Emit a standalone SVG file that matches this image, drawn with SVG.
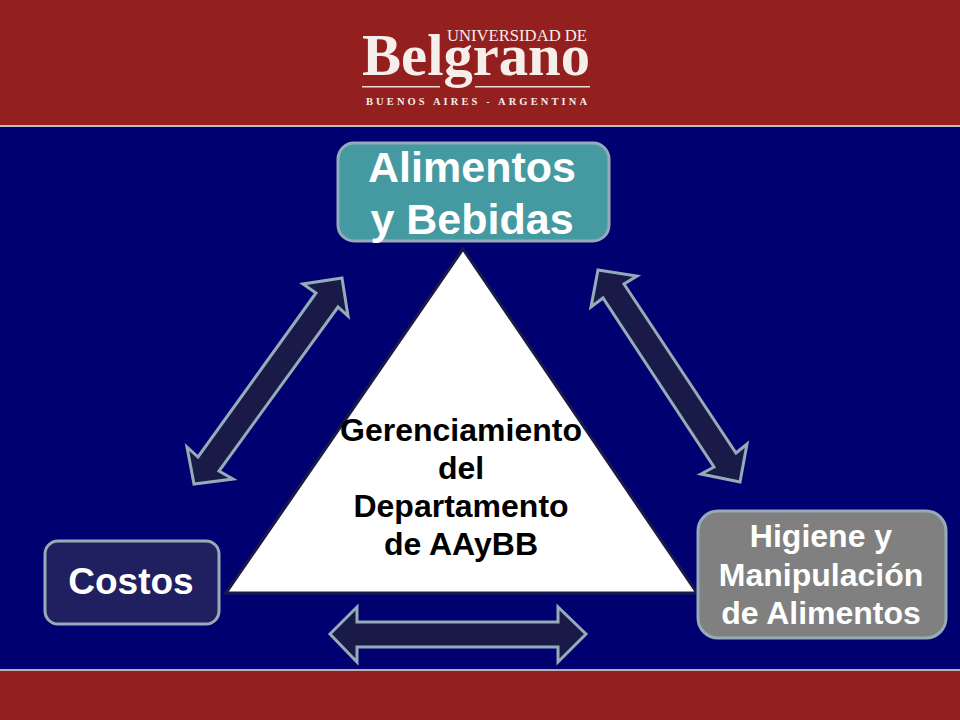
<svg xmlns="http://www.w3.org/2000/svg" width="960" height="720" viewBox="0 0 960 720">
<style>
.box{stroke:#96abb8;stroke-width:3}
.arrow{fill:#1a1a48;stroke:#96abb8;stroke-width:3;stroke-miterlimit:10}
text{font-family:"Liberation Sans",Arial,sans-serif;font-weight:bold;text-anchor:middle}
.w{fill:#fff}
.logo{font-family:"Liberation Serif","Times New Roman",serif;fill:#f6eeea;text-anchor:start}
</style>
<rect width="960" height="720" fill="#000070"/>
<g id="header">
<rect width="960" height="125" fill="#931f1f"/>
<rect y="125" width="960" height="2" fill="#c2bcbc"/>
<rect x="362" y="86" width="78" height="1.5" fill="#f0dcd6"/>
<rect x="475" y="86" width="115" height="1.5" fill="#f0dcd6"/>
<text class="logo" x="447" y="41" font-size="17" textLength="140" lengthAdjust="spacingAndGlyphs" style="font-weight:normal">UNIVERSIDAD DE</text>
<text class="logo" x="362" y="75" font-size="60" textLength="228" lengthAdjust="spacingAndGlyphs">Belgrano</text>
<text class="logo" x="366" y="105" font-size="10.5" textLength="221">BUENOS AIRES - ARGENTINA</text>
</g>
<g id="footer">
<rect y="671" width="960" height="49" fill="#931f1f"/>
<rect y="669" width="960" height="2" fill="#b8aeb4"/>
</g>
<g id="connectors">
<path class="arrow" d="M342,278L303,284L316,293L198,457L187,447L194,484L233,479L219,471L338,307L348,316Z"/>
<path class="arrow" d="M598,270L637,276L624,284L736,453L747,444L740,482L701,474L714,467L603,298L591,307Z"/>
<path class="arrow" d="M330,634L357,607V622H558V607L586,634L558,662V647H357V662Z"/>
</g>
<g id="triangle">
<path d="M463,249L697,593H226Z" fill="#fff" stroke="#1a1a48" stroke-width="3"/>
<text font-size="32" x="461" y="441">Gerenciamiento</text>
<text font-size="32" x="461" y="479">del</text>
<text font-size="32" x="461" y="517">Departamento</text>
<text font-size="32" x="461" y="555">de AAyBB</text>
</g>
<g id="alimentos">
<rect class="box" x="338" y="143" width="271" height="98" rx="16" fill="#459aa2"/>
<text class="w" font-size="43" x="472" y="182">Alimentos</text>
<text class="w" font-size="43" x="472" y="234">y Bebidas</text>
</g>
<g id="costos">
<rect class="box" x="45" y="541" width="174" height="83" rx="13" fill="#202060"/>
<text class="w" font-size="37" x="131" y="594">Costos</text>
</g>
<g id="higiene">
<rect class="box" x="698" y="511" width="248" height="127" rx="20" fill="#808080"/>
<text class="w" font-size="32" x="821" y="547">Higiene y</text>
<text class="w" font-size="32" x="821" y="586">Manipulación</text>
<text class="w" font-size="32" x="821" y="624">de Alimentos</text>
</g>
</svg>
